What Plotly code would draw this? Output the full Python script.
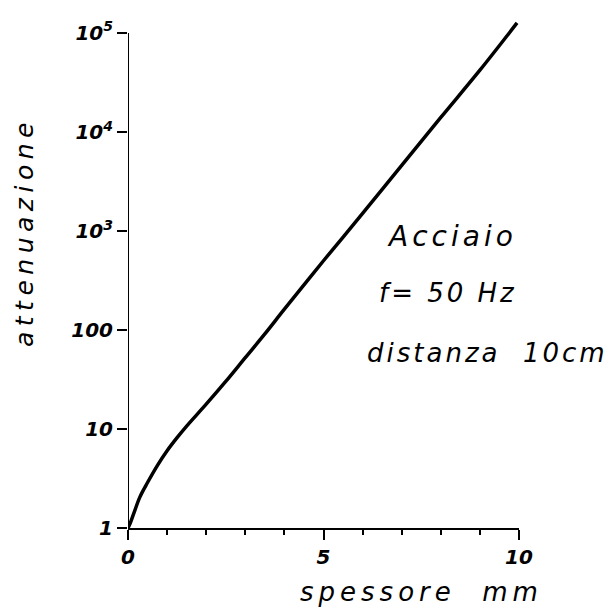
import plotly.graph_objects as go

# data
spessore_mm = [0, 0.05, 0.15, 0.3, 0.5, 0.75, 1.0, 1.25, 1.5, 2.0, 2.5, 3.0, 3.5, 4.0,
               5.0, 6.0, 7.0, 8.0, 9.0, 9.95]
attenuazione = [1.0, 1.10, 1.41, 2.04, 2.88, 4.27, 6.03, 8.13, 10.7, 17.8, 30.2, 52.5, 91.2, 162,
                500, 1500, 4600, 14000, 42000, 126000]

y_tickvals = [1, 10, 100, 1000, 10000, 100000]
y_ticktext = ["1", "10", "100", "10<sup>3</sup>", "10<sup>4</sup>", "10<sup>5</sup>"]
x_tickvals = [0, 5, 10]
x_ticktext = ["0", "5", "10"]

hand = dict(family="DejaVu Sans", color="black", size=20, style="italic", weight="bold")


def note_font(size):
    return dict(family="DejaVu Sans", color="black", size=size, style="italic")


def spaced(text, px):
    return '<span style="letter-spacing:%spx">%s</span>' % (px, text)


fig = go.Figure()
fig.add_trace(go.Scatter(x=spessore_mm, y=attenuazione, mode="lines",
                         line=dict(color="black", width=3.5, shape="spline", smoothing=1.0),
                         showlegend=False, hoverinfo="skip"))

pl, pr, pt, pb = 128, 609 - 90, 21, 610 - 82


def ann(text, px, py, size, angle=0):
    return dict(text=text, x=(px - pl) / (pr - pl), y=(pb - py) / (pb - pt),
                xref="paper", yref="paper", xanchor="center", yanchor="middle",
                showarrow=False, textangle=angle, font=note_font(size))


fig.update_layout(
    width=609, height=610,
    margin=dict(l=pl, r=609 - pr, t=pt, b=610 - pb, autoexpand=False),
    paper_bgcolor="white", plot_bgcolor="white",
    xaxis=dict(range=[0, 10], tickvals=x_tickvals, ticktext=x_ticktext,
               showgrid=False, zeroline=False, showline=True, linecolor="black", linewidth=2,
               ticks="outside", ticklen=10, tickwidth=2, tickcolor="black",
               minor=dict(dtick=1, ticks="outside", ticklen=5, tickwidth=1.5, tickcolor="black"),
               tickfont=hand, automargin=False),
    yaxis=dict(type="log", range=[0, 5.12], tickvals=y_tickvals, ticktext=y_ticktext,
               showgrid=False, zeroline=False, showline=False,
               ticks="outside", ticklen=10, tickwidth=2, tickcolor="black",
               tickfont=hand, automargin=False),
    shapes=[dict(type="line", xref="x", yref="y", x0=x_tickvals[0], x1=x_tickvals[0],
                 y0=y_tickvals[0], y1=y_tickvals[-1], line=dict(color="black", width=2))],
    annotations=[
        ann(spaced("spessore  mm", 5), 421, 592, 26),
        ann(spaced("attenuazione", 5.5), 24, 232, 25, angle=-90),
        ann(spaced("Acciaio", 4), 452, 237, 28),
        ann(spaced("f= 50 Hz", 3), 448, 293, 26),
        ann(spaced("distanza  10cm", 3), 487, 353, 26),
    ],
)

fig.write_html("out.html", config={"displayModeBar": False},
               post_script="document.body.style.margin='0';")
